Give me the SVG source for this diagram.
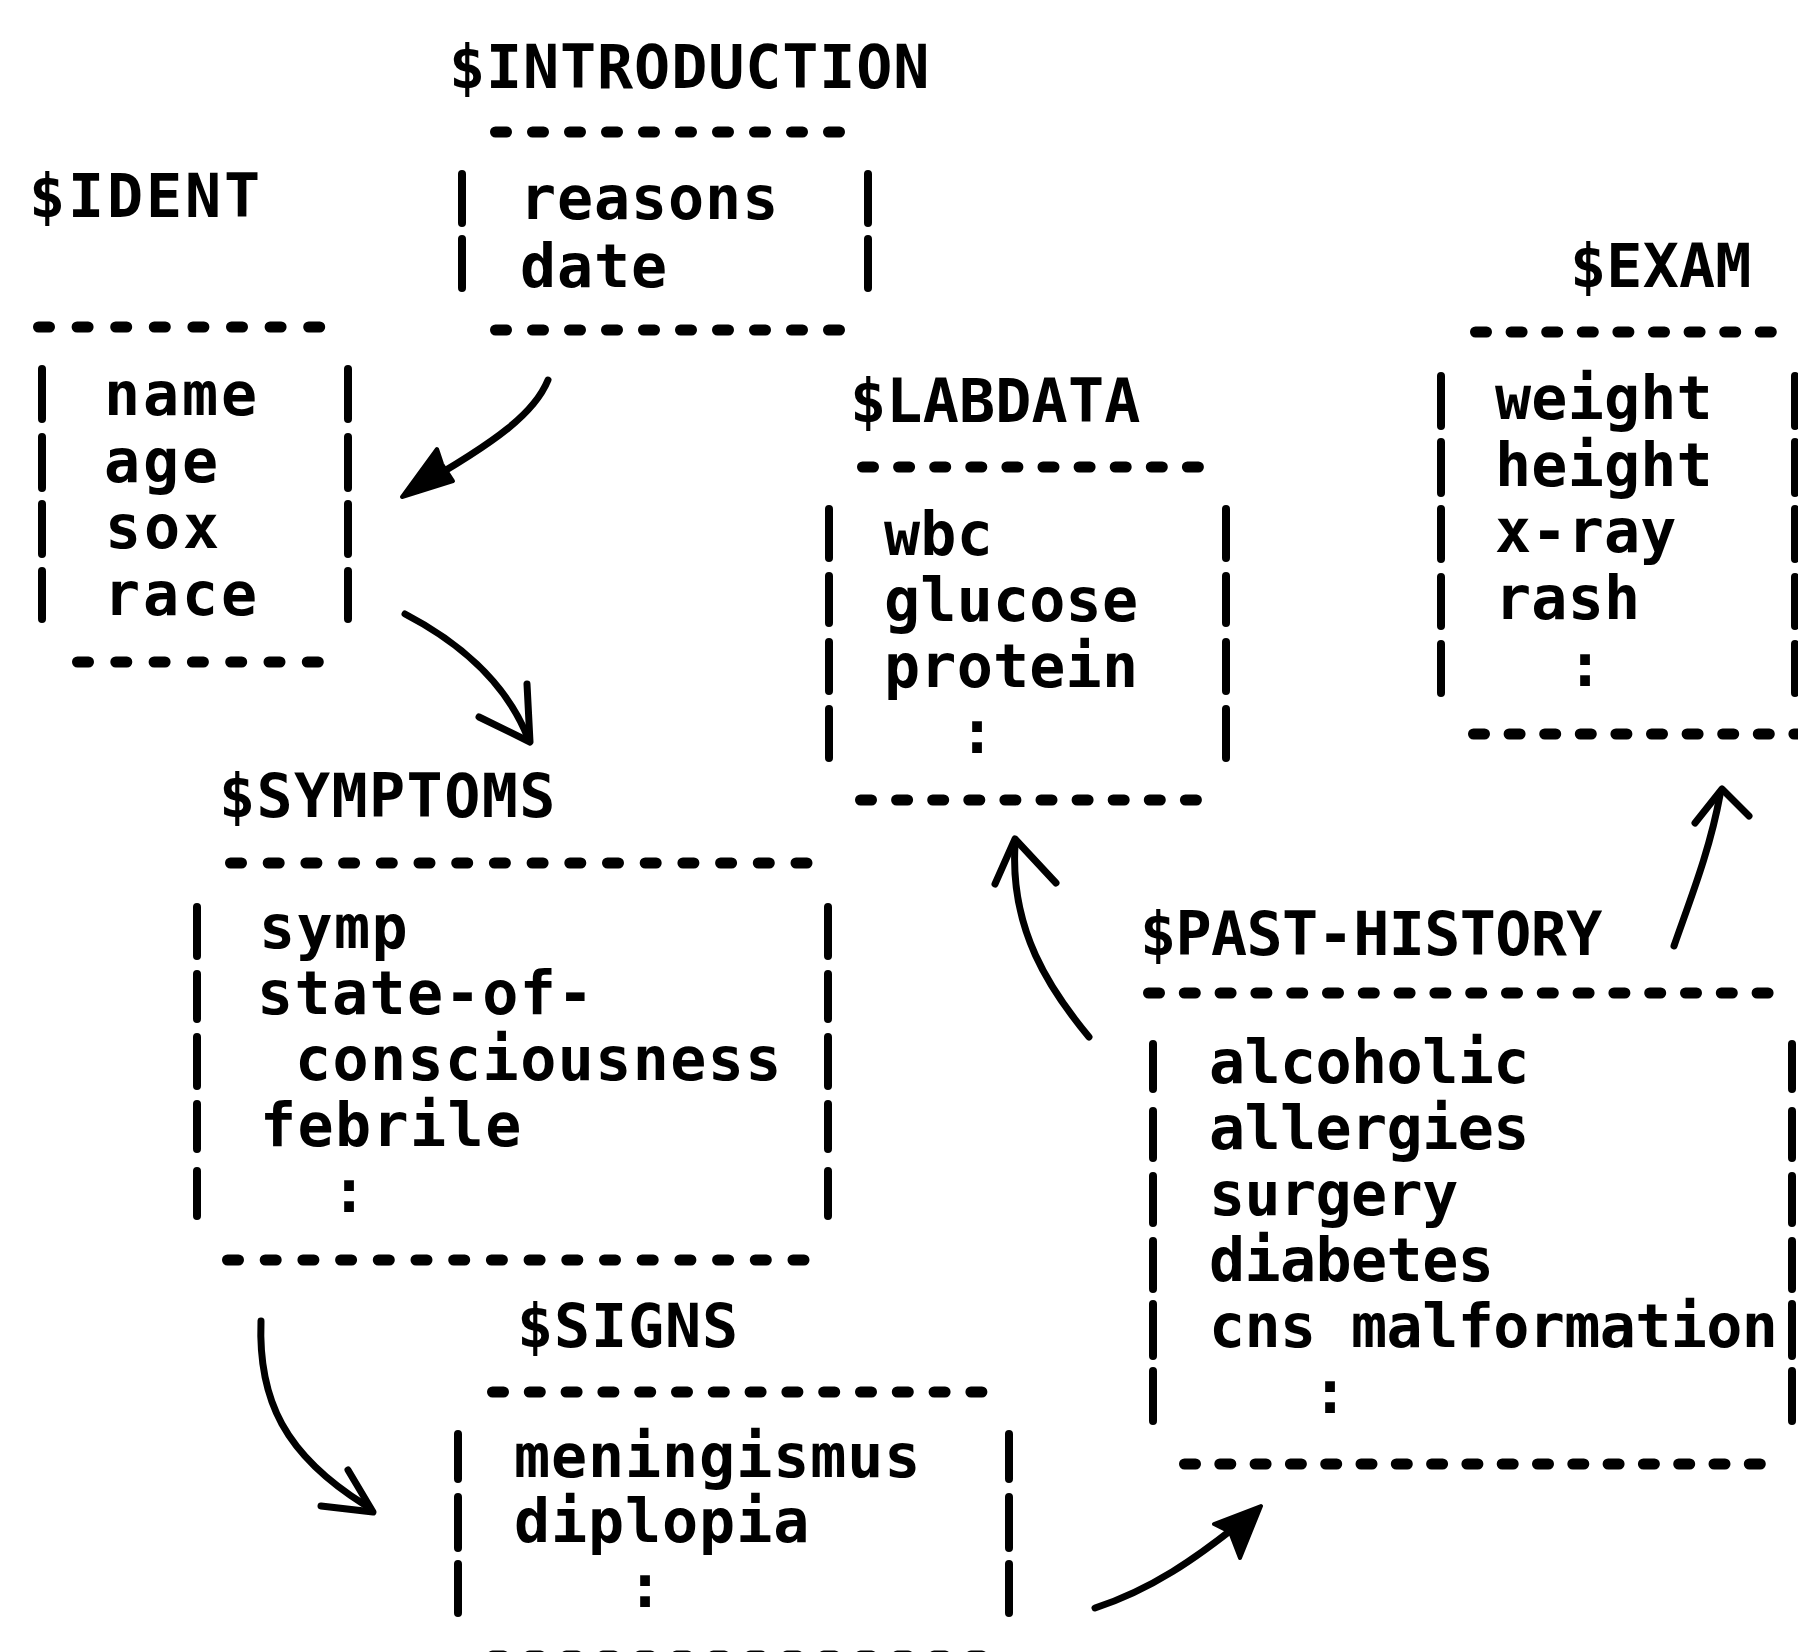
<svg xmlns="http://www.w3.org/2000/svg" width="1798" height="1652" viewBox="0 0 1798 1652">
<style>
.t{font-family:"DejaVu Sans Mono","Liberation Mono",monospace;font-weight:bold;font-size:60px;fill:#000}
.p39{letter-spacing:2.9px}.p37{letter-spacing:0.9px}.p375{letter-spacing:1.4px}.p36{letter-spacing:0.2px}.p355{letter-spacing:-0.6px}
.d{stroke:#000;stroke-width:11;stroke-linecap:round;fill:none}
.b{stroke:#000;stroke-width:8;stroke-linecap:round;fill:none}
.a{stroke:#000;stroke-width:7;stroke-linecap:round;stroke-linejoin:round;fill:none}
.h{fill:#000;stroke:#000;stroke-width:4;stroke-linejoin:round}
</style>
<rect width="1798" height="1652" fill="#fff"/>

<g id="ident">
<text class="t p39" x="29" y="217">$IDENT</text>
<line class="d" x1="38.5" y1="327" x2="319.7" y2="327" stroke-dasharray="11 27.6"/>
<path class="b" d="M42,369V419M42,437V488M42,504V554M42,571V619M348,369V419M348,437V488M348,504V554M348,571V619"/>
<text class="t p39"><tspan x="104" y="415">name</tspan><tspan x="104" y="482">age</tspan><tspan x="105" y="548">sox</tspan><tspan x="104" y="615">race</tspan></text>
<line class="d" x1="77.5" y1="662" x2="318.3" y2="662" stroke-dasharray="11 27.3"/>
</g>

<g id="introduction">
<text class="t p37" x="449" y="88">$INTRODUCTION</text>
<line class="d" x1="495.5" y1="132" x2="839.5" y2="132" stroke-dasharray="11 26"/>
<path class="b" d="M462,174V223M462,239V288M868,174V223M868,239V288"/>
<text class="t p37"><tspan x="520" y="219">reasons</tspan><tspan x="520" y="287">date</tspan></text>
<line class="d" x1="495.5" y1="330" x2="839.5" y2="330" stroke-dasharray="11 26"/>
</g>

<g id="labdata">
<text class="t p36" x="850" y="422">$LABDATA</text>
<line class="d" x1="862.5" y1="467" x2="1198.4" y2="467" stroke-dasharray="11 25.1"/>
<path class="b" d="M829,509V558M829,576V623M829,642V691M829,709V758M1226,509V558M1226,576V623M1226,642V691M1226,709V758"/>
<text class="t p36"><tspan x="884" y="555">wbc</tspan><tspan x="884" y="621">glucose</tspan><tspan x="884" y="687">protein</tspan><tspan x="959" y="753">:</tspan></text>
<line class="d" x1="860.5" y1="800" x2="1196.4" y2="800" stroke-dasharray="11 25.1"/>
</g>

<g id="exam">
<text class="t p36" x="1570" y="287">$EXAM</text>
<line class="d" x1="1475.5" y1="332" x2="1771.3" y2="332" stroke-dasharray="11 24.6"/>
<path class="b" d="M1441,376V426M1441,442V493M1441,509V559M1441,577V626M1441,644V693M1795,376V426M1795,442V493M1795,509V559M1795,577V626M1795,644V693"/>
<text class="t p36"><tspan x="1495" y="419">weight</tspan><tspan x="1495" y="486">height</tspan><tspan x="1495" y="552">x-ray</tspan><tspan x="1495" y="619">rash</tspan><tspan x="1567" y="686">:</tspan></text>
<line class="d" x1="1473.5" y1="734" x2="1804.9" y2="734" stroke-dasharray="11 24.6"/>
</g>

<g id="symptoms">
<text class="t p375" x="219" y="817">$SYMPTOMS</text>
<line class="d" x1="230.5" y1="863" x2="807" y2="863" stroke-dasharray="11 26.7"/>
<path class="b" d="M197,907V956M197,974V1019M197,1037V1086M197,1104V1149M197,1171V1216M828,907V956M828,974V1019M828,1037V1086M828,1104V1149M828,1171V1216"/>
<text class="t p375"><tspan x="259" y="948">symp</tspan><tspan x="257" y="1014">state-of-</tspan><tspan x="295" y="1080">consciousness</tspan><tspan x="260" y="1146">febrile</tspan><tspan x="331" y="1212">:</tspan></text>
<line class="d" x1="227.5" y1="1260" x2="804" y2="1260" stroke-dasharray="11 26.7"/>
</g>

<g id="signs">
<text class="t p37" x="517" y="1347">$SIGNS</text>
<line class="d" x1="492.5" y1="1392" x2="981.9" y2="1392" stroke-dasharray="11 25.8"/>
<path class="b" d="M458,1434V1479M458,1497V1548M458,1564V1613M1009,1434V1479M1009,1497V1548M1009,1564V1613"/>
<text class="t p37"><tspan x="514" y="1477">meningismus</tspan><tspan x="514" y="1542">diplopia</tspan><tspan x="627" y="1607">:</tspan></text>
<line class="d" x1="492.5" y1="1656" x2="981.9" y2="1656" stroke-dasharray="11 25.8"/>
</g>

<g id="past-history">
<text class="t p355" x="1140" y="955">$PAST-HISTORY</text>
<line class="d" x1="1148.5" y1="993" x2="1768.1" y2="993" stroke-dasharray="11 24.8"/>
<path class="b" d="M1153,1044V1089M1153,1111V1158M1153,1176V1223M1153,1241V1289M1153,1304V1356M1153,1371V1421M1792,1044V1089M1792,1111V1158M1792,1176V1223M1792,1241V1289M1792,1304V1356M1792,1371V1421"/>
<text class="t p355"><tspan x="1209" y="1083">alcoholic</tspan><tspan x="1209" y="1149">allergies</tspan><tspan x="1209" y="1215">surgery</tspan><tspan x="1209" y="1281">diabetes</tspan><tspan x="1209" y="1347">cns malformation</tspan><tspan x="1312" y="1413">:</tspan></text>
<line class="d" x1="1184.5" y1="1464" x2="1760.3" y2="1464" stroke-dasharray="11 24.3"/>
</g>

<g id="connectors">
<path class="a" d="M548,380C535,412 500,440 412,490"/>
<path class="h" d="M402,497L437,449L442,464L453,481Z"/>

<path class="a" d="M405,614C455,640 505,680 528,738"/>
<path class="a" d="M479,717L530,742L527,684"/>

<path class="a" d="M261,1321C258,1400 285,1455 365,1505"/>
<path class="a" d="M321,1506L373,1512L348,1470"/>

<path class="a" d="M1095,1608C1150,1590 1195,1560 1250,1515"/>
<path class="h" d="M1261,1506L1214,1524L1230,1532L1240,1558Z"/>

<path class="a" d="M1089,1037C1050,990 1010,930 1015,845"/>
<path class="a" d="M995,884L1015,839L1056,883"/>

<path class="a" d="M1674,946C1690,900 1710,850 1720,795"/>
<path class="a" d="M1695,823L1722,789L1749,816"/>
</g>
</svg>
